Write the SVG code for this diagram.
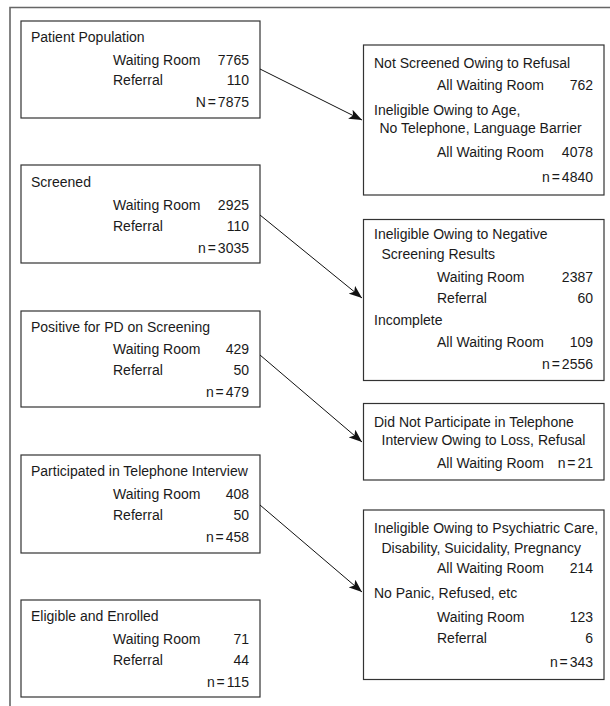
<svg xmlns="http://www.w3.org/2000/svg" width="610" height="706" viewBox="0 0 610 706">
<style>
  text { font-family: "Liberation Sans", Arial, sans-serif; font-size: 14px; fill: #1a1a1a; }
  .num { text-anchor: end; }
  .tot { text-anchor: end; word-spacing: -2px; }
  .box { fill: #ffffff; stroke: #333333; stroke-width: 1.2; }
  .frame { fill: none; stroke: #666666; stroke-width: 1.6; }
  .conn { stroke: #111111; stroke-width: 1; fill: none; marker-end: url(#arrow); }
</style>
<defs>
  <marker id="arrow" markerUnits="userSpaceOnUse" markerWidth="14" markerHeight="10" refX="13" refY="5" orient="auto">
    <path d="M0,0 L13,5 L0,10 L3,5 z" fill="#111111"/>
  </marker>
</defs>
<rect width="610" height="706" fill="#ffffff"/>
<path class="frame" d="M10,706 L10,7.5 L610,7.5"/>

<g id="patient-population">
  <rect class="box" x="21" y="21" width="239" height="97"/>
  <text x="31" y="42">Patient Population</text>
  <text x="113" y="65">Waiting Room</text><text class="num" x="249" y="65">7765</text>
  <text x="113" y="85">Referral</text><text class="num" x="249" y="85">110</text>
  <text class="tot" x="249" y="107">N = 7875</text>
</g>

<g id="screened">
  <rect class="box" x="21" y="165" width="239" height="98"/>
  <text x="31" y="187">Screened</text>
  <text x="113" y="210">Waiting Room</text><text class="num" x="249" y="210">2925</text>
  <text x="113" y="231">Referral</text><text class="num" x="249" y="231">110</text>
  <text class="tot" x="249" y="253">n = 3035</text>
</g>

<g id="positive-pd">
  <rect class="box" x="21" y="311" width="239" height="96"/>
  <text x="31" y="332">Positive for PD on Screening</text>
  <text x="113" y="354">Waiting Room</text><text class="num" x="249" y="354">429</text>
  <text x="113" y="375">Referral</text><text class="num" x="249" y="375">50</text>
  <text class="tot" x="249" y="397">n = 479</text>
</g>

<g id="participated-interview">
  <rect class="box" x="21" y="455" width="239" height="98"/>
  <text x="31" y="476">Participated in Telephone Interview</text>
  <text x="113" y="499">Waiting Room</text><text class="num" x="249" y="499">408</text>
  <text x="113" y="520">Referral</text><text class="num" x="249" y="520">50</text>
  <text class="tot" x="249" y="542">n = 458</text>
</g>

<g id="eligible-enrolled">
  <rect class="box" x="21" y="600" width="239" height="97"/>
  <text x="31" y="621">Eligible and Enrolled</text>
  <text x="113" y="644">Waiting Room</text><text class="num" x="249" y="644">71</text>
  <text x="113" y="665">Referral</text><text class="num" x="249" y="665">44</text>
  <text class="tot" x="249" y="687">n = 115</text>
</g>

<g id="not-screened">
  <rect class="box" x="363.5" y="45" width="240.5" height="150"/>
  <text x="374" y="68">Not Screened Owing to Refusal</text>
  <text x="437" y="90">All Waiting Room</text><text class="num" x="593" y="90">762</text>
  <text x="374" y="115">Ineligible Owing to Age,</text>
  <text x="379.5" y="133">No Telephone, Language Barrier</text>
  <text x="437" y="157">All Waiting Room</text><text class="num" x="593" y="157">4078</text>
  <text class="tot" x="593" y="182">n = 4840</text>
</g>

<g id="ineligible-negative">
  <rect class="box" x="363.5" y="219.5" width="240.5" height="161"/>
  <text x="374" y="239">Ineligible Owing to Negative</text>
  <text x="381.5" y="259">Screening Results</text>
  <text x="437" y="282">Waiting Room</text><text class="num" x="593" y="282">2387</text>
  <text x="437" y="303">Referral</text><text class="num" x="593" y="303">60</text>
  <text x="374" y="325">Incomplete</text>
  <text x="437" y="347">All Waiting Room</text><text class="num" x="593" y="347">109</text>
  <text class="tot" x="593" y="369">n = 2556</text>
</g>

<g id="did-not-participate">
  <rect class="box" x="363.5" y="403.5" width="240.5" height="76.5"/>
  <text x="374" y="427">Did Not Participate in Telephone</text>
  <text x="381.5" y="445">Interview Owing to Loss, Refusal</text>
  <text x="437" y="468">All Waiting Room</text><text class="tot" x="593" y="468">n = 21</text>
</g>

<g id="ineligible-psychiatric">
  <rect class="box" x="363.5" y="510" width="240.5" height="169.5"/>
  <text x="374" y="533">Ineligible Owing to Psychiatric Care,</text>
  <text x="381.5" y="553">Disability, Suicidality, Pregnancy</text>
  <text x="437" y="573">All Waiting Room</text><text class="num" x="593" y="573">214</text>
  <text x="374" y="598">No Panic, Refused, etc</text>
  <text x="437" y="622">Waiting Room</text><text class="num" x="593" y="622">123</text>
  <text x="437" y="643">Referral</text><text class="num" x="593" y="643">6</text>
  <text class="tot" x="593" y="667">n = 343</text>
</g>

<g id="connectors">
  <line class="conn" x1="260" y1="69" x2="362" y2="120"/>
  <line class="conn" x1="260" y1="215" x2="362" y2="298"/>
  <line class="conn" x1="260" y1="355" x2="362" y2="442"/>
  <line class="conn" x1="260" y1="505" x2="362" y2="592"/>
</g>
</svg>
